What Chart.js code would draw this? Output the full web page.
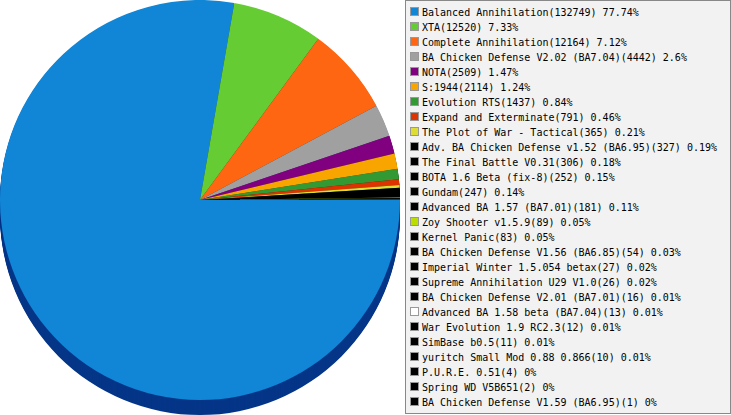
<!DOCTYPE html>
<html>
<head>
<meta charset="utf-8">
<script src="https://cdn.jsdelivr.net/npm/chart.js@4"></script>
<style>
  html, body { margin: 0; padding: 0; background: #fff; }
  #wrap { position: relative; width: 731px; height: 415px; overflow: hidden; }
  #pieBox { position: absolute; left: 0; top: 0; width: 405px; height: 415px; }
  #legend {
    position: absolute; left: 405px; top: 0; width: 326px; height: 414px;
    box-sizing: border-box; border: 1px solid #888; background: #f2f2f2;
    padding: 4px 0 0 4px;
    font-family: "DejaVu Sans Mono", monospace; font-size: 10px; color: #000;
  }
  .row { position: relative; height: 15px; line-height: 15px; white-space: nowrap; padding-left: 12px; }
  .sw { position: absolute; left: 0; top: 2px; width: 7px; height: 7px; border: 1px solid #999; }
</style>
</head>
<body>
<div id="wrap">
  <div id="pieBox"><canvas id="pieChart"></canvas></div>
  <div id="legend"></div>
</div>
<script>
// mod names (slice order, clockwise from 3 o'clock)
const mods = [
  'Balanced Annihilation', 'XTA', 'Complete Annihilation', 'BA Chicken Defense V2.02 (BA7.04)',
  'NOTA', 'S:1944', 'Evolution RTS', 'Expand and Exterminate', 'The Plot of War - Tactical',
  'Adv. BA Chicken Defense v1.52 (BA6.95)', 'The Final Battle V0.31', 'BOTA 1.6 Beta (fix-8)',
  'Gundam', 'Advanced BA 1.57 (BA7.01)', 'Zoy Shooter v1.5.9', 'Kernel Panic',
  'BA Chicken Defense V1.56 (BA6.85)', 'Imperial Winter 1.5.054 betax', 'Supreme Annihilation U29 V1.0',
  'BA Chicken Defense V2.01 (BA7.01)', 'Advanced BA 1.58 beta (BA7.04)', 'War Evolution 1.9 RC2.3',
  'SimBase b0.5', 'yuritch Small Mod 0.88 0.866', 'P.U.R.E. 0.51', 'Spring WD V5B651',
  'BA Chicken Defense V1.59 (BA6.95)'
];

// games counted per mod
const games = [
  132749, 12520, 12164, 4442, 2509, 2114, 1437, 791, 365,
  327, 306, 252, 247, 181, 89, 83, 54, 27, 26,
  16, 13, 12, 11, 10, 4, 2, 1
];

// percentages as printed in the legend
const percents = [
  '77.74', '7.33', '7.12', '2.6', '1.47', '1.24', '0.84', '0.46', '0.21',
  '0.19', '0.18', '0.15', '0.14', '0.11', '0.05', '0.05', '0.03', '0.02', '0.02',
  '0.01', '0.01', '0.01', '0.01', '0.01', '0', '0', '0'
];

// slice colours
const colors = [
  '#1185d6', '#66cc33', '#ff6611', '#a0a0a0', '#800080', '#f9a500', '#339933', '#dd3300', '#dddd33',
  '#000000', '#000000', '#000000', '#000000', '#000000', '#bbdd00', '#000000', '#000000', '#000000',
  '#000000', '#000000', '#ffffff', '#000000', '#000000', '#000000', '#000000', '#000000', '#000000'
];

const depth = 15; // thickness of the pie edge

// darker shade for the pie's side
function sideColor(hex) {
  const n = parseInt(hex.slice(1), 16);
  const r = Math.round(((n >> 16) & 255) * 0.3);
  const g = Math.round(((n >> 8) & 255) * 0.4);
  const b = Math.round((n & 255) * 0.63);
  return `rgb(${r},${g},${b})`;
}

// draws the edge under the pie so it looks 3D
const pieDepth = {
  id: 'pieDepth',
  beforeDatasetsDraw(chart) {
    const c = chart.ctx;
    const arcs = chart.getDatasetMeta(0).data;
    c.save();
    for (let d = depth; d >= 1; d--) {
      arcs.forEach((arc, i) => {
        c.beginPath();
        c.moveTo(arc.x, arc.y + d);
        c.arc(arc.x, arc.y + d, arc.outerRadius, arc.startAngle, arc.endAngle);
        c.closePath();
        c.fillStyle = sideColor(colors[i]);
        c.fill();
      });
    }
    c.restore();
  }
};

new Chart(document.getElementById('pieChart'), {
  type: 'pie',
  data: {
    labels: mods,
    datasets: [{
      data: games,
      backgroundColor: colors,
      borderWidth: 0,
      hoverOffset: 0,
    }],
  },
  options: {
    responsive: true,
    maintainAspectRatio: false,
    animation: false,
    devicePixelRatio: 1,
    rotation: 90,
    layout: { padding: { left: 0, top: 0, right: 5, bottom: depth } },
    plugins: {
      legend: { display: false },
      tooltip: { enabled: false },
    },
  },
  plugins: [pieDepth],
});

// legend on the right
const legend = document.getElementById('legend');
mods.forEach((name, i) => {
  const row = document.createElement('div');
  row.className = 'row';
  const sw = document.createElement('span');
  sw.className = 'sw';
  sw.style.background = colors[i];
  row.appendChild(sw);
  row.appendChild(document.createTextNode(`${name}(${games[i]}) ${percents[i]}%`));
  legend.appendChild(row);
});
</script>
</body>
</html>
